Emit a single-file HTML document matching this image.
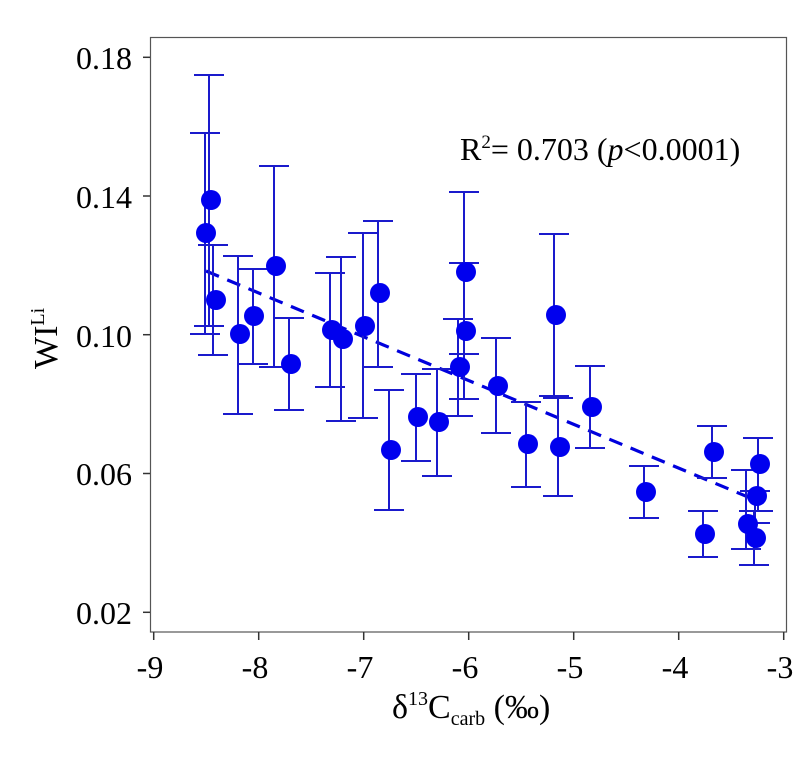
<!DOCTYPE html>
<html><head><style>html,body{margin:0;padding:0;background:#fff}</style></head><body>
<svg width="808" height="754" xmlns="http://www.w3.org/2000/svg" font-family="Liberation Serif, serif">
<rect x="150.5" y="37.5" width="636" height="594.5" fill="none" stroke="#555" stroke-width="1.2"/>
<g stroke="#333" stroke-width="1.5">
<line x1="143" y1="57.3" x2="150" y2="57.3"/><line x1="143" y1="196" x2="150" y2="196"/>
<line x1="143" y1="334.7" x2="150" y2="334.7"/><line x1="143" y1="473.5" x2="150" y2="473.5"/>
<line x1="143" y1="612.3" x2="150" y2="612.3"/>
<line x1="153.7" y1="632" x2="153.7" y2="640"/><line x1="258.7" y1="632" x2="258.7" y2="640"/>
<line x1="363.7" y1="632" x2="363.7" y2="640"/><line x1="468.7" y1="632" x2="468.7" y2="640"/>
<line x1="573.7" y1="632" x2="573.7" y2="640"/><line x1="678.7" y1="632" x2="678.7" y2="640"/>
<line x1="783.7" y1="632" x2="783.7" y2="640"/>
</g>
<g font-size="32" text-anchor="end" fill="#000">
<text x="132" y="69">0.18</text><text x="132" y="208">0.14</text><text x="132" y="347">0.10</text>
<text x="132" y="485">0.06</text><text x="132" y="624">0.02</text>
</g>
<g font-size="32" text-anchor="middle" fill="#000">
<text x="150" y="678">-9</text><text x="255" y="678">-8</text><text x="360" y="678">-7</text>
<text x="465" y="678">-6</text><text x="570" y="678">-5</text><text x="675" y="678">-4</text><text x="780" y="678">-3</text>
</g>
<text x="392" y="718" font-size="34">δ<tspan font-size="20" dy="-13">13</tspan><tspan dy="13">C</tspan><tspan font-size="20" dy="7">carb</tspan><tspan dy="-7"> (‰)</tspan></text>
<text transform="translate(57,369) rotate(-90)" font-size="34">WI<tspan font-size="20" dy="-13">Li</tspan></text>
<text x="460" y="160" font-size="32">R<tspan font-size="19" dy="-12">2</tspan><tspan dy="12">= 0.703 (</tspan><tspan font-style="italic">p</tspan>&lt;0.0001)</text>
<line x1="206" y1="271" x2="760" y2="502" stroke="#0000dd" stroke-width="3.2" stroke-dasharray="14,9"/>
<path stroke="#1a1acc" stroke-width="2" fill="none" d="M209 75V326M194 75H224M194 326H224M205 133V334M190 133H220M190 334H220M213 245V355M198 245H228M198 355H228M238 256V414M223 256H253M223 414H253M253 269V364M238 269H268M238 364H268M274 166V367M259 166H289M259 367H289M289 318V410M274 318H304M274 410H304M330 273V387M315 273H345M315 387H345M341 257V421M326 257H356M326 421H356M363 233V418M348 233H378M348 418H378M378 221V367M363 221H393M363 367H393M389 390V510M374 390H404M374 510H404M416 374V461M401 374H431M401 461H431M437 369V476M422 369H452M422 476H452M458 319V416M443 319H473M443 416H473M464 192V354M449 192H479M449 354H479M464 263V399M449 263H479M449 399H479M496 338V433M481 338H511M481 433H511M526 402V487M511 402H541M511 487H541M554 234V396M539 234H569M539 396H569M558 398V496M543 398H573M543 496H573M590 366V448M575 366H605M575 448H605M644 466V518M629 466H659M629 518H659M712 426V478M697 426H727M697 478H727M703 511V557M688 511H718M688 557H718M746 470V549M731 470H761M731 549H761M755 491V523M740 491H770M740 523H770M758 438V511M743 438H773M743 511H773M754 511V565M739 511H769M739 565H769"/>
<g fill="#0000ee">
<circle cx="211" cy="200" r="10"/><circle cx="206" cy="233" r="10"/><circle cx="216" cy="300" r="10"/>
<circle cx="240" cy="334" r="10"/><circle cx="254" cy="316" r="10"/><circle cx="276" cy="266" r="10"/>
<circle cx="291" cy="364" r="10"/><circle cx="332" cy="330" r="10"/><circle cx="343" cy="339" r="10"/>
<circle cx="365" cy="326" r="10"/><circle cx="380" cy="293" r="10"/><circle cx="391" cy="450" r="10"/>
<circle cx="418" cy="417" r="10"/><circle cx="439" cy="422" r="10"/><circle cx="460" cy="367" r="10"/>
<circle cx="466" cy="272" r="10"/><circle cx="466" cy="331" r="10"/><circle cx="498" cy="386" r="10"/>
<circle cx="528" cy="444" r="10"/><circle cx="556" cy="315" r="10"/><circle cx="560" cy="447" r="10"/>
<circle cx="592" cy="407" r="10"/><circle cx="646" cy="492" r="10"/><circle cx="714" cy="452" r="10"/>
<circle cx="705" cy="534" r="10"/><circle cx="748" cy="524" r="10"/><circle cx="757" cy="496" r="10"/>
<circle cx="760" cy="464" r="10"/><circle cx="756" cy="538" r="10"/>
</g>
</svg>
</body></html>
